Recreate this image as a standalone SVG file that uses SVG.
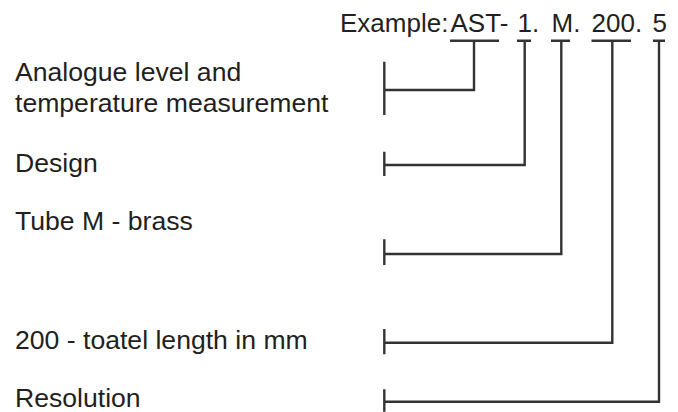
<svg xmlns="http://www.w3.org/2000/svg" width="678" height="412" viewBox="0 0 678 412">
<style>
text{font-family:"Liberation Sans",Arial,sans-serif;font-size:26.6px;fill:#231f20}
.top{font-size:26px}
.ln{fill:none;stroke:#333;stroke-width:2.4;stroke-linecap:butt;stroke-linejoin:miter}
</style>
<rect width="678" height="412" fill="#fff"/>
<g id="example">
<text class="top" x="340" y="32">Example:</text>
<text class="top" x="450.5" y="32">AST-</text>
<text class="top" x="517.5" y="32">1.</text>
<text class="top" x="551.5" y="32">M.</text>
<text class="top" x="591.5" y="32">200.</text>
<text class="top" x="652.5" y="32">5</text>
</g>
<g id="label-analogue"><text x="15" y="81">Analogue level and</text><text x="15" y="111.5">temperature measurement</text></g>
<g id="label-design"><text x="15" y="171.5">Design</text></g>
<g id="label-tube"><text x="15" y="230">Tube M - brass</text></g>
<g id="label-length"><text x="15" y="349">200 - toatel length in mm</text></g>
<g id="label-resolution"><text x="15" y="406.5">Resolution</text></g>
<g id="connectors">
<path class="ln" d="M450 40.7H499M474 40.7V90H384.3M384.3 61.7V115"/>
<path class="ln" d="M517 40.7H531M524.7 40.7V165H384.3M384.3 151.7V176"/>
<path class="ln" d="M551 40.7H570M561.3 40.7V254H384.3M384.3 239.3V265"/>
<path class="ln" d="M591.5 40.7H631M612.3 40.7V342.7H384.3M384.3 329V354.3"/>
<path class="ln" d="M653 40.7H665M659 40.7V401.7H384.3M384.3 389.3V411.7"/>
</g>
</svg>
